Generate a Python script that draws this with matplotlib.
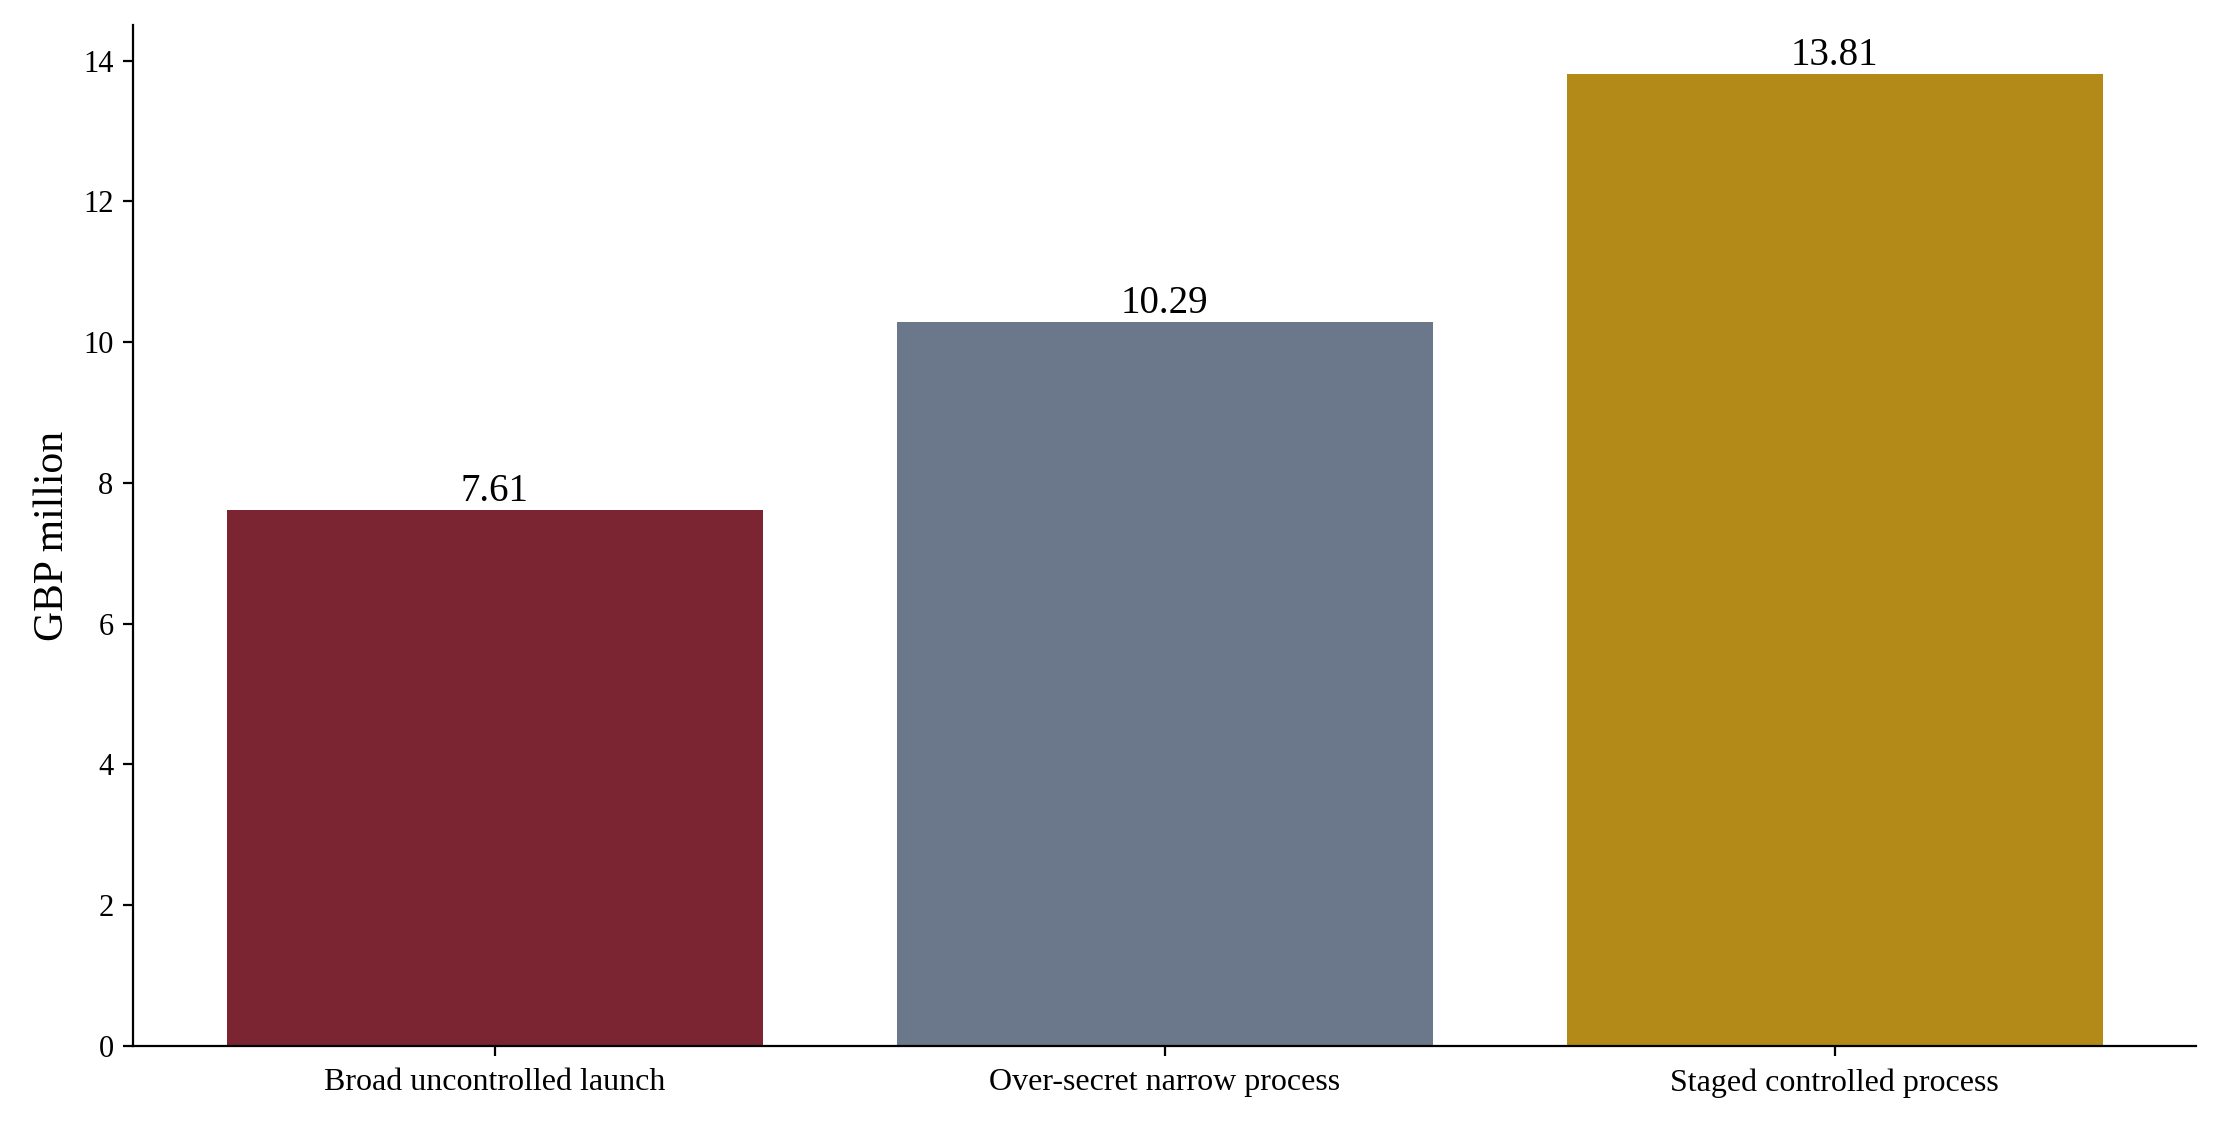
import matplotlib
matplotlib.use('Agg')
import matplotlib.pyplot as plt

plt.rcParams['font.family'] = ['Liberation Serif', 'DejaVu Serif']

categories = ['Broad uncontrolled launch', 'Over-secret narrow process', 'Staged controlled process']
values = [7.61, 10.29, 13.81]
colors = ['#7B2432', '#6B778A', '#B38918']

fig = plt.figure(figsize=(11.105, 5.62), dpi=200)
ax = fig.add_axes([0.0599, 0.0694, 0.929, 0.908])

bars = ax.bar(categories, values, color=colors, width=0.8)
for b, v in zip(bars, values):
    ax.text(b.get_x() + b.get_width() / 2, v, f'{v:.2f}', ha='center', va='bottom', fontsize=14)

ax.set_ylim(0, max(values) * 1.05)
ax.set_ylabel('GBP million', fontsize=15)
ax.tick_params(axis='y', labelsize=11)
ax.tick_params(axis='x', labelsize=11.5, pad=4.5)
ax.spines['top'].set_visible(False)
ax.spines['right'].set_visible(False)

fig.savefig('out.png', dpi=200)
